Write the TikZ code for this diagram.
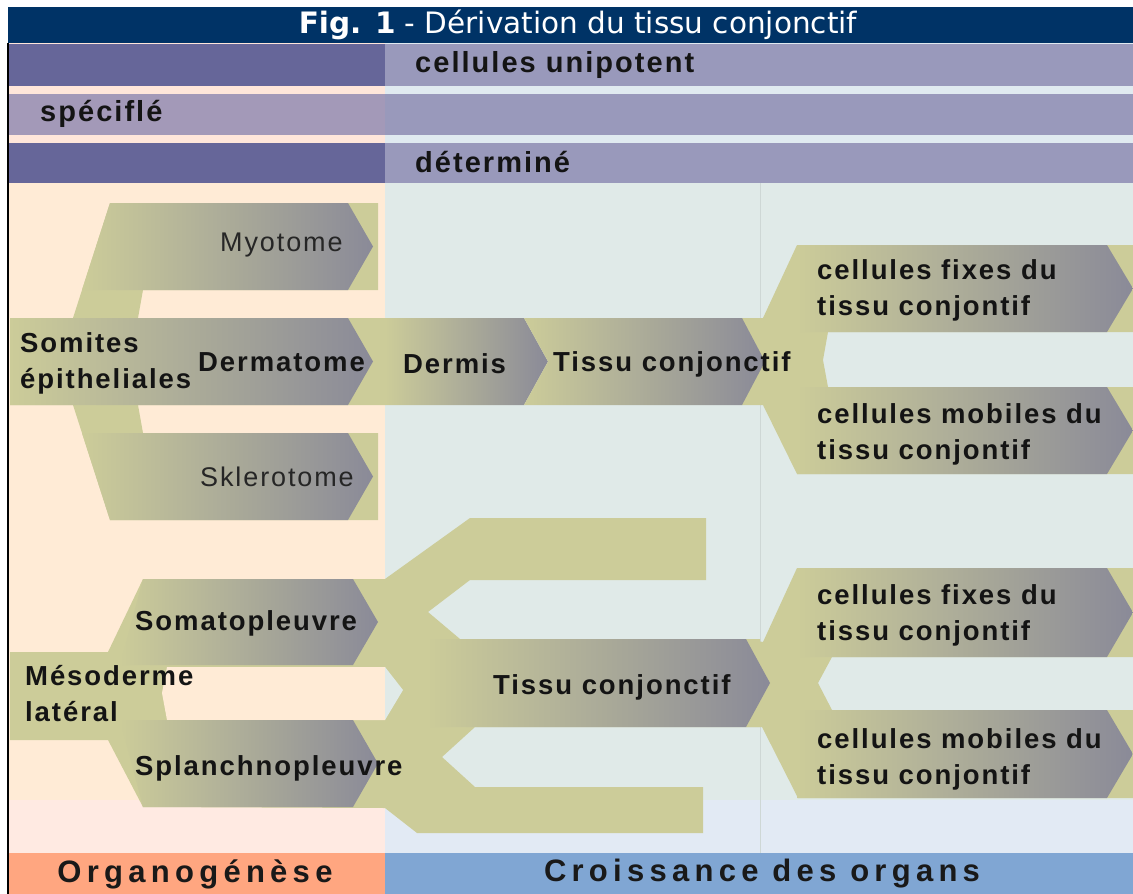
\documentclass[tikz,border=0pt]{standalone}
\usepackage{fontspec}
\setmainfont{Liberation Sans}
\newfontfamily\lblfont[LetterSpace=7]{Liberation Sans}
\newfontfamily\barfont[LetterSpace=17]{Liberation Sans}
\newfontfamily\titlefont{DejaVu Sans}

\definecolor{navy}{RGB}{0,51,102}
\definecolor{rowdark}{RGB}{102,102,153}
\definecolor{rowlight}{RGB}{153,153,187}
\definecolor{rowspec}{RGB}{163,153,184}
\definecolor{peach}{RGB}{255,235,214}
\definecolor{peachgap}{RGB}{255,230,218}
\definecolor{peachlow}{RGB}{255,234,226}
\definecolor{mist}{RGB}{224,234,232}
\definecolor{mistgap}{RGB}{224,234,240}
\definecolor{mistlow}{RGB}{226,234,244}
\definecolor{salmon}{RGB}{255,166,128}
\definecolor{barblue}{RGB}{128,166,211}
\definecolor{sage}{RGB}{204,204,153}
\definecolor{slate}{RGB}{138,138,152}

\begin{document}
\begin{tikzpicture}[x=1pt, y=-1pt,
    grad/.style={left color=sage, right color=slate},
    lbl/.style={inner sep=0pt, anchor=west, align=left, text=black!92,
      font=\lblfont\bfseries\fontsize{27.5}{36}\selectfont},
    rowlbl/.style={lbl, font=\lblfont\bfseries\fontsize{29}{34}\selectfont},
    thinlbl/.style={inner sep=0pt, anchor=west, text=black!85,
      font=\lblfont\fontsize{27}{30}\selectfont},
    barlbl/.style={inner sep=0pt, text=black!90,
      font=\barfont\bfseries\fontsize{31}{36}\selectfont}]
  \useasboundingbox (0,0) rectangle (1133,894);
  \fill[white] (0,0) rectangle (1133,894);

  % title bar
  \fill[navy] (8,7) rectangle (1133,43);
  \node[font=\titlefont\fontsize{29.5}{34}\selectfont, text=white] (title) at (578,25)
    {\textbf{Fig. 1} - Dérivation du tissu conjonctif};

  % stage rows
  \fill[peachgap] (8,43) rectangle (385,183);
  \fill[mistgap] (385,43) rectangle (1133,183);
  \foreach \ya/\yb in {44/86, 94/135, 143/183} {
    \fill[rowdark] (8,\ya) rectangle (385,\yb);
    \fill[rowlight] (385,\ya) rectangle (1133,\yb);
  }
  \fill[rowspec] (8,94) rectangle (385,135);
  \node[rowlbl] (unipot) at (415,65) {cellules unipotent};
  \node[rowlbl] (specif) at (40,114) {spéciflé};
  \node[rowlbl] (determ) at (415,162) {déterminé};

  % columns, bottom bar and frame
  \fill[peach] (8,183) rectangle (385,800);
  \fill[mist] (385,183) rectangle (1133,800);
  \fill[peachlow] (8,800) rectangle (385,853);
  \fill[mistlow] (385,800) rectangle (1133,853);
  \draw[mist!92!black, line width=0.6] (760,183) -- (760,853);
  \fill[salmon] (8,853) rectangle (385,894);
  \fill[barblue] (385,853) rectangle (1133,894);
  \draw[line width=2] (8,43) -- (8,894);
  \node[barlbl] (organo) at (195,874) {Organogénèse};
  \node[barlbl] (croiss) at (762,874) {Croissance des organs};

  % forks on the right (drawn first, arrows come on top)
  \fill[sage] (742,318) -- (763,318) -- (797,245) -- (1133,245) -- (1133,332) -- (828,332)
    -- (823,360) -- (828,387) -- (1133,387) -- (1133,474) -- (797,474) -- (763,405)
    -- (742,405) -- cycle;
  \fill[sage] (746,639) -- (763,642) -- (797,568) -- (1133,568) -- (1133,657) -- (832,657)
    -- (818,683) -- (832,710) -- (1133,710) -- (1133,798) -- (798,798) -- (762,727)
    -- (746,727) -- cycle;

  % somites
  \fill[sage] (10,318) -- (73,318) -- (110,203) -- (378,203) -- (378,290) -- (143,290)
    -- (138,318) -- (385,318) -- (385,405) -- (138,405) -- (143,433) -- (378,433)
    -- (378,520) -- (110,520) -- (73,405) -- (10,405) -- cycle;
  \path[grad] (110,203) -- (348,203) -- (373,246.5) -- (348,290) -- (82,290) -- cycle;
  \path[grad] (10,318) -- (348,318) -- (373,361.5) -- (348,405) -- (10,405) -- cycle;
  \path[grad] (82,433) -- (348,433) -- (373,476.5) -- (348,520) -- (110,520) -- cycle;
  \path[grad] (385,318) -- (524,318) -- (548,361.5) -- (524,405) -- (385,405) -- cycle;
  \path[grad] (524,318) -- (742,318) -- (765,361.5) -- (742,405) -- (524,405)
    -- (548,361.5) -- cycle;

  % lateral mesoderm and its bracket
  \fill[sage] (10,652) -- (108,652) -- (143,579) -- (385,579) -- (470,518) -- (706,518)
    -- (706,580) -- (470,580) -- (428,612) -- (460,639) -- (760,639) -- (760,727)
    -- (475,727) -- (442,757) -- (475,787) -- (703,787) -- (703,833) -- (417,833)
    -- (385,808) -- (143,807) -- (108,740) -- (10,740) -- cycle;
  \fill[peach] (167,667) -- (385,667) -- (385,720) -- (167,720) -- (162,693) -- cycle;
  \fill[mist] (385,667) -- (403,690) -- (385,720) -- cycle;
  \path[grad] (143,579) -- (353,579) -- (378,622) -- (353,665) -- (120,665) -- cycle;
  \path[grad] (120,720) -- (353,720) -- (378,763.5) -- (353,807) -- (143,807) -- cycle;
  \path[grad] (427,639) -- (746,639) -- (770,683) -- (746,727) -- (427,727) -- cycle;

  % cell arrows on the right
  \foreach \ya/\yb in {245/332, 387/474, 568/657, 710/798} {
    \path[grad] (797,\ya) -- (1107,\ya) -- (1133,{(\ya+\yb)/2}) -- (1107,\yb)
      -- (797,\yb) -- cycle;
  }

  % labels
  \node[thinlbl] (myo) at (220,245) {Myotome};
  \node[lbl] (somit) at (20,363) {Somites\\épitheliales};
  \node[lbl] (dermat) at (198,362) {Dermatome};
  \node[thinlbl] (sklero) at (200,477) {Sklerotome};
  \node[lbl] (dermis) at (403,364) {Dermis};
  \node[lbl] (tissu) at (553,364) {Tissu conjonctif};
  \node[lbl] (fixe) at (817,290) {cellules fixes du\\tissu conjontif};
  \node[lbl] (mobile) at (817,434) {cellules mobiles du\\tissu conjontif};
  \node[lbl] (somato) at (135,623) {Somatopleuvre};
  \node[lbl] (meso) at (25,694) {Mésoderme\\latéral};
  \node[lbl] (splanch) at (135,768) {Splanchnopleuvre};
  \node[lbl] (tissub) at (493,687) {Tissu conjonctif};
  \node[lbl] (fixeb) at (817,615) {cellules fixes du\\tissu conjontif};
  \node[lbl] (mobileb) at (817,759) {cellules mobiles du\\tissu conjontif};
\end{tikzpicture}
\end{document}
